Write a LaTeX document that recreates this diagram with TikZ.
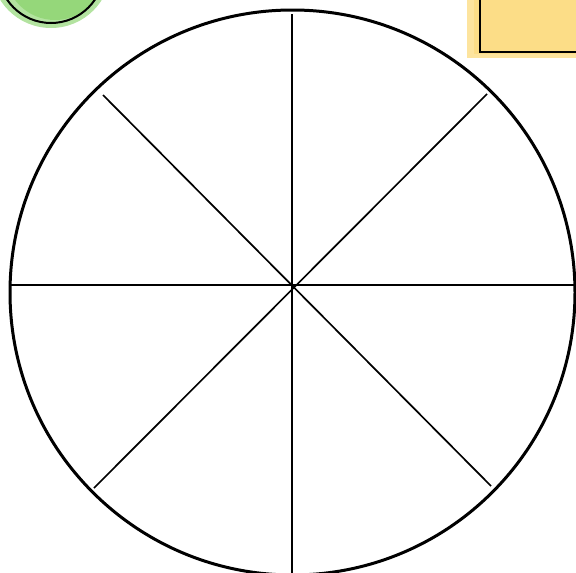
\documentclass[tikz,border=0pt]{standalone}
\begin{document}
\begin{tikzpicture}[x=1pt,y=-1pt,
  rim/.style={line width=3pt,black},
  spoke/.style={line width=1.7pt,black},
  outline/.style={line width=2pt,black}]
\useasboundingbox (0,0) rectangle (576,573);
\definecolor{blobgreen}{RGB}{120,205,85}
\definecolor{blobyellow}{RGB}{252,218,120}
% green blob top-left
\begin{scope}
\clip (0,0) rectangle (576,573);
\fill[blobgreen!70,opacity=0.8] (51,-32) circle (60);
\fill[blobgreen,opacity=0.5] (55,-30) circle (50);
\draw[outline] (51,-30) circle (53);
% yellow patch top-right
\fill[blobyellow!80,opacity=0.9] (467,-5) rectangle (580,58);
\fill[blobyellow,opacity=0.6] (474,-5) rectangle (580,54);
\draw[outline] (480,-5) -- (480,52) -- (580,52);
\end{scope}
% wheel
\coordinate (c) at (293,286);
\coordinate (top) at (292,14);
\coordinate (bot) at (292,575);
\coordinate (left) at (10,285);
\coordinate (right) at (576,285);
\coordinate (tl) at (103,95);
\coordinate (tr) at (487,94);
\coordinate (bl) at (94,488);
\coordinate (br) at (491,486);
\draw[spoke] (top) -- (bot);
\draw[spoke] (left) -- (right);
\draw[spoke] (tl) -- (br);
\draw[spoke] (tr) -- (bl);
\draw[rim] (292.5,292.5) circle (282.5);
\end{tikzpicture}
\end{document}
